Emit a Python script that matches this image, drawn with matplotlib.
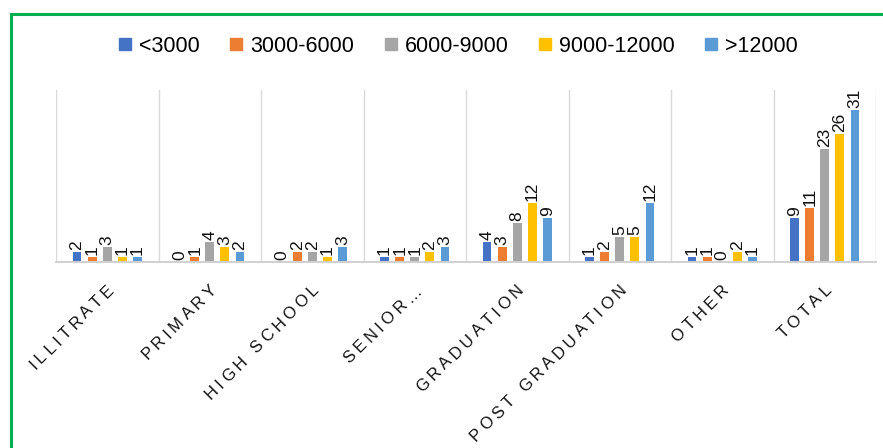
import matplotlib
matplotlib.use("Agg")
import matplotlib.pyplot as plt
import numpy as np
from matplotlib.lines import Line2D
from matplotlib.font_manager import FontProperties, findfont, get_font

plt.rcParams["font.family"] = ["Liberation Sans", "DejaVu Sans"]

# ---- data -------------------------------------------------------------
categories = ["ILLITRATE", "PRIMARY", "HIGH SCHOOL", "SENIOR…",
              "GRADUATION", "POST GRADUATION", "OTHER", "TOTAL"]
series_names = ["<3000", "3000-6000", "6000-9000", "9000-12000", ">12000"]

below_3000 = [2, 0, 0, 1, 4, 1, 1, 9]
from_3000_to_6000 = [1, 1, 2, 1, 3, 2, 1, 11]
from_6000_to_9000 = [3, 4, 2, 1, 8, 5, 0, 23]
from_9000_to_12000 = [1, 3, 1, 2, 12, 5, 2, 26]
above_12000 = [1, 2, 3, 3, 9, 12, 1, 31]

series_values = [below_3000, from_3000_to_6000, from_6000_to_9000,
                 from_9000_to_12000, above_12000]
colors = ["#4472C4", "#ED7D31", "#A5A5A5", "#FFC000", "#5B9BD5"]

# ---- figure -----------------------------------------------------------
W, H = 883, 448
fig = plt.figure(figsize=(W / 100, H / 100), dpi=100)
ax = fig.add_axes([56 / W, 1 - 262 / H, (876 - 56) / W, (262 - 90) / H])

x = np.arange(len(categories))
step = 0.147
bar_w = 0.085
for k, (vals, col) in enumerate(zip(series_values, colors)):
    xs = x + (k - 2) * step
    ax.bar(xs, vals, width=bar_w, color=col, zorder=2)
    for xi, v in zip(xs, vals):
        ax.annotate(str(v), (xi, v), xytext=(0, 1.5), textcoords="offset points",
                    rotation=90, ha="center", va="bottom", fontsize=12.5,
                    color="#111111")

ax.set_xlim(-0.5, len(categories) - 0.5)
ax.set_ylim(0, 35)
for b in np.arange(-0.5, len(categories), 1.0):
    ax.axvline(b, color="#D9D9D9", lw=1.0, zorder=0)
for side in ["top", "left", "right"]:
    ax.spines[side].set_visible(False)
ax.spines["bottom"].set_color("#D0D0D0")
ax.spines["bottom"].set_linewidth(1.4)
ax.set_xticks([])
ax.set_yticks([])


def spaced_label(ax, xpos, text, size, tracking, end_offset, angle=45):
    """Draw a rotated category label letter by letter with extra tracking,
    its right end placed at end_offset (points) from (xpos, axis bottom)."""
    prop = FontProperties(family="Liberation Sans", size=size)
    font = get_font(findfont(prop))
    font.set_size(size, 72)
    adv = [font.load_char(ord(ch)).linearHoriAdvance / 65536 for ch in text]
    total = sum(adv) + tracking * (len(text) - 1)
    c, s = np.cos(np.radians(angle)), np.sin(np.radians(angle))
    pos = 0.0
    for ch, a in zip(text, adv):
        t = pos - total
        if ch != " ":
            ax.annotate(ch, (xpos, 0), xycoords=ax.get_xaxis_transform(),
                        xytext=(end_offset[0] + t * c, end_offset[1] + t * s),
                        textcoords="offset points", rotation=angle,
                        rotation_mode="anchor", ha="left", va="center",
                        fontsize=size, color="#111111")
        pos += a + tracking


for xi, name in zip(x, categories):
    spaced_label(ax, xi, name, size=12, tracking=2.7, end_offset=(3.0, -18.5))

# ---- legend -----------------------------------------------------------
handles = [Line2D([], [], ls="", marker="s", markersize=8.6, color=c) for c in colors]
fig.legend(handles, series_names, loc="center", bbox_to_anchor=(0.5190, 0.897),
           ncol=5, frameon=False, fontsize=15.5, handlelength=0.6,
           handletextpad=0.35, columnspacing=1.4)

# ---- green frame (left and top edges) ---------------------------------
fx = 10.5 / W
fy = 1 - 14 / H
fig.add_artist(Line2D([fx, fx, 1.0], [0.0, fy, fy], transform=fig.transFigure,
                      color="#00B050", lw=2.2, solid_joinstyle="miter"))

fig.savefig("out.png", dpi=100)
